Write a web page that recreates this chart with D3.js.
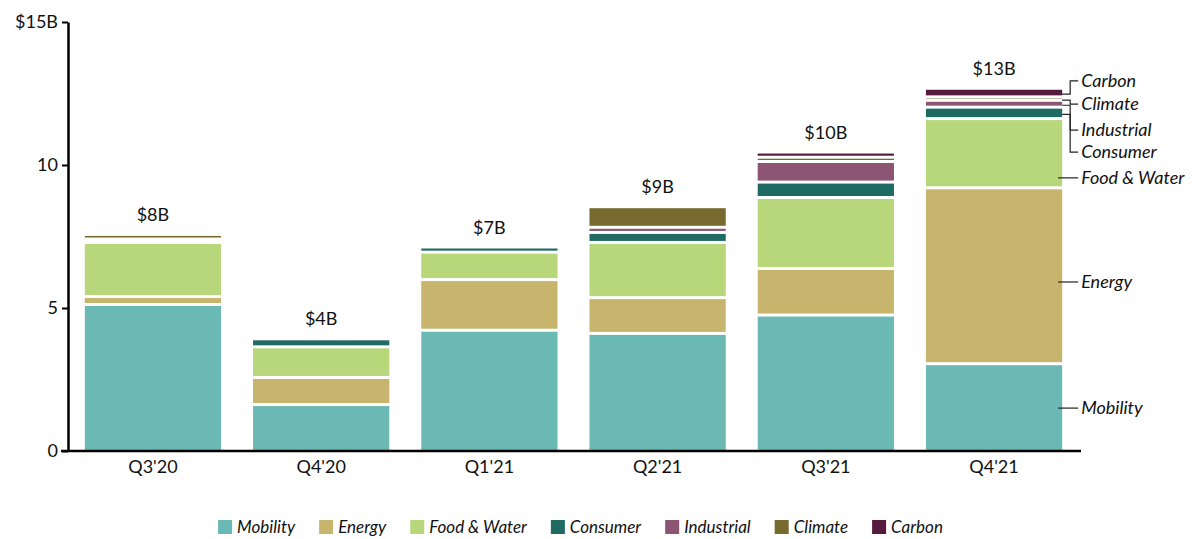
<!DOCTYPE html>
<html>
<head>
<meta charset="utf-8">
<script src="https://cdn.jsdelivr.net/npm/d3@7"></script>
<style>
  body { margin: 0; background: #fff; }
  svg { display: block; font-family: "Lato", "Open Sans", sans-serif; }
</style>
</head>
<body>
<div id="chart"></div>
<script>
// quarters and sector values ($B)
const quarters = ["Q3'20", "Q4'20", "Q1'21", "Q2'21", "Q3'21", "Q4'21"];
const sectors = ["Mobility", "Energy", "Food & Water", "Consumer", "Industrial", "Climate", "Carbon"];
const colors = ["#6bb9b5", "#c8b56d", "#b7d77a", "#1f6a63", "#8c5573", "#786a2e", "#561a3d"];

const mobility   = [5.07, 1.57, 4.17, 4.06, 4.70, 3.00];
const energy     = [0.28, 0.95, 1.77, 1.25, 1.63, 6.15];
const foodWater  = [1.89, 1.07, 0.96, 1.93, 2.48, 2.42];
const consumer   = [0.06, 0.28, 0.18, 0.35, 0.54, 0.40];
const industrial = [0.06, 0.00, 0.00, 0.18, 0.72, 0.24];
const climate    = [0.16, 0.00, 0.00, 0.72, 0.15, 0.12];
const carbon     = [0.00, 0.00, 0.00, 0.00, 0.18, 0.30];

const totalLabels = ["$8B", "$4B", "$7B", "$9B", "$10B", "$13B"];
const yTicks = [0, 5, 10, 15];
// where the right-side sector labels sit (in $B on the y scale)
const annotationValues = [1.5, 5.91, 9.55, 10.45, 11.22, 12.13, 12.94];

const series = [mobility, energy, foodWater, consumer, industrial, climate, carbon];

const width = 1198, height = 539;
const margin = { top: 22, right: 119, bottom: 88, left: 68 };
const gap = 3; // white gap between stacked segments

const svg = d3.select("#chart").append("svg")
    .attr("width", width)
    .attr("height", height);

const x = d3.scaleBand()
    .domain(quarters)
    .range([margin.left, width - margin.right])
    .paddingInner(0.19)
    .paddingOuter(0.1);

const y = d3.scaleLinear()
    .domain([0, 15])
    .range([height - margin.bottom, margin.top]);

// build stack table
const table = quarters.map((q, i) => {
    const row = { quarter: q };
    sectors.forEach((s, j) => row[s] = series[j][i]);
    return row;
});
const stacked = d3.stack().keys(sectors)(table);

// bars
stacked.forEach((layer, j) => {
    svg.append("g")
        .attr("fill", colors[j])
        .selectAll("rect")
        .data(layer)
        .join("rect")
        .attr("x", d => x(d.data.quarter))
        .attr("width", x.bandwidth())
        .attr("y", d => y(d[1]))
        .attr("height", d => {
            const h = y(d[0]) - y(d[1]) - (d[0] > 0 ? gap : 0);
            return Math.max(0, h);
        });
});

// totals above bars
const topOf = stacked[stacked.length - 1];
svg.append("g")
    .selectAll("text")
    .data(topOf)
    .join("text")
    .attr("x", d => x(d.data.quarter) + x.bandwidth() / 2)
    .attr("y", d => y(d[1]) - 15)
    .attr("text-anchor", "middle")
    .attr("font-size", "18px")
    .attr("fill", "#111")
    .text((d, i) => totalLabels[i]);

// y axis
const yAxis = svg.append("g")
    .attr("transform", `translate(${margin.left},0)`)
    .call(d3.axisLeft(y)
        .tickValues(yTicks)
        .tickSize(6)
        .tickSizeOuter(0)
        .tickFormat(d => d === 15 ? "$15B" : d));
yAxis.select(".domain").attr("stroke", "#000").attr("stroke-width", 2.5);
yAxis.selectAll(".tick line").attr("stroke", "#000").attr("stroke-width", 2);
yAxis.selectAll(".tick text")
    .attr("font-size", "18px")
    .attr("fill", "#111")
    .attr("x", -10)
    .attr("font-family", "Lato, sans-serif");

// x axis
const xAxis = svg.append("g")
    .attr("transform", `translate(0,${y(0)})`)
    .call(d3.axisBottom(x).tickSize(0).tickPadding(9));
xAxis.select(".domain").remove();
xAxis.selectAll(".tick text")
    .attr("font-size", "18px")
    .attr("fill", "#111")
    .attr("font-family", "Lato, sans-serif");
svg.append("line")
    .attr("x1", margin.left - 7)
    .attr("x2", x.range()[1] + 2)
    .attr("y1", y(0))
    .attr("y2", y(0))
    .attr("stroke", "#000")
    .attr("stroke-width", 2.5);

// right-side sector annotations on the last bar
const last = quarters.length - 1;
const barRight = x(quarters[last]) + x.bandwidth();
const labelX = barRight + 19;
const ann = svg.append("g")
    .attr("fill", "none")
    .attr("stroke", "#222")
    .attr("stroke-width", 1.2);
stacked.forEach((layer, j) => {
    const seg = layer[last];
    const ly = y(annotationValues[j]);
    const segMid = y((seg[0] + seg[1]) / 2);
    if (j <= 2) {
        // straight leader from inside the segment
        ann.append("line")
            .attr("x1", barRight - 4).attr("x2", labelX - 3)
            .attr("y1", ly).attr("y2", ly);
    } else {
        const elbow = barRight + 8;
        ann.append("path")
            .attr("d", `M${barRight},${segMid}H${elbow}V${ly}H${labelX - 3}`);
    }
    svg.append("text")
        .attr("x", labelX)
        .attr("y", ly)
        .attr("dy", "0.35em")
        .attr("font-size", "18px")
        .attr("font-style", "italic")
        .attr("fill", "#111")
        .text(sectors[j]);
});

// legend
const legend = svg.append("g")
    .attr("transform", `translate(0,${height - 12})`);
const items = legend.selectAll("g")
    .data(sectors)
    .join("g");
items.append("rect")
    .attr("width", 14)
    .attr("height", 14)
    .attr("y", -7)
    .attr("fill", (d, i) => colors[i]);
items.append("text")
    .attr("x", 19)
    .attr("dy", "0.35em")
    .attr("font-size", "17px")
    .attr("font-style", "italic")
    .attr("fill", "#111")
    .text(d => d);

// lay legend items out left to right, centered
let offset = 0;
const positions = [];
items.each(function() {
    const w = 19 + this.querySelector("text").getComputedTextLength();
    positions.push(offset);
    offset += w + 24;
});
const totalW = offset - 24;
const startX = (margin.left + x.range()[1]) / 2 - totalW / 2 + 7;
items.attr("transform", (d, i) => `translate(${startX + positions[i]},0)`);
</script>
</body>
</html>
